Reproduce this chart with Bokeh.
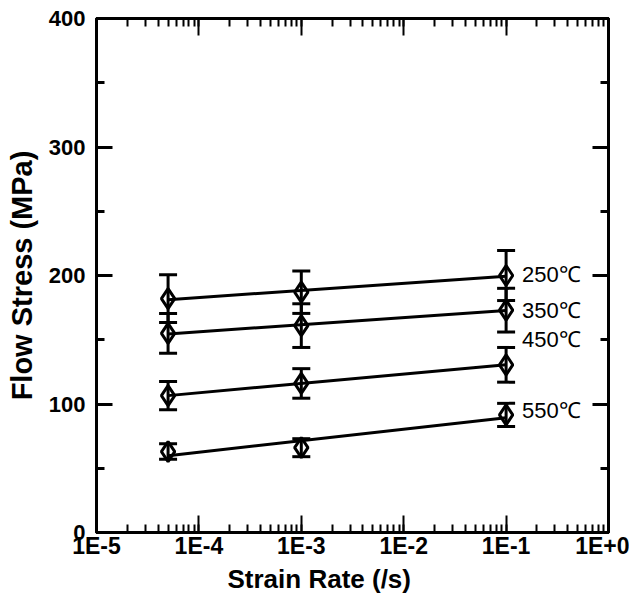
import numpy as np
from bokeh.plotting import figure
from bokeh.models import (Range1d, LogAxis, LinearAxis, LogTicker, CustomJSTickFormatter,
                          SingleIntervalTicker, Whisker, TeeHead, ColumnDataSource, Title)
from bokeh.embed import file_html
from bokeh.resources import INLINE
from bokeh.core.properties import value

# ---- data ----
strain_rate = [5e-5, 1e-3, 1e-1]
temp_labels = ["250℃", "350℃", "450℃", "550℃"]
stress_250 = [182, 187, 200]
err_250 = [18.5, 16.5, 19.5]
stress_350 = [155, 161, 173]
err_350 = [15.5, 17, 17]
stress_450 = [106.5, 116, 130.5]
err_450 = [11, 11.5, 13.5]
stress_550 = [63, 66, 91.5]
err_550 = [6, 7, 9]
label_y = [201, 173, 150, 95]
x_tick_exps = [-5, -4, -3, -2, -1, 0]
x_tick_labels = ["1E-5", "1E-4", "1E-3", "1E-2", "1E-1", "1E+0"]
x_title = "Strain Rate (/s)"
y_title = "Flow Stress (MPa)"

FONT = "Liberation Sans"

p = figure(x_axis_type="log", x_range=Range1d(10.0 ** x_tick_exps[0], 10.0 ** x_tick_exps[-1]),
           y_range=Range1d(0, 400),
           width=629, height=600, output_backend="svg", toolbar_location=None,
           min_border_left=96, min_border_top=18, min_border_right=21, min_border_bottom=68,
           background_fill_color="white", border_fill_color="white")
p.grid.visible = False
p.outline_line_color = "black"
p.outline_line_width = 3

# bottom log axis
ax = p.xaxis[0]
ax.ticker = LogTicker(num_minor_ticks=10)
ax.formatter = CustomJSTickFormatter(args=dict(labels=x_tick_labels, exps=x_tick_exps), code="""
    const e = Math.round(Math.log10(tick));
    const i = exps.indexOf(e);
    return i >= 0 ? labels[i] : "";
""")
ax.major_tick_in = 17
ax.major_tick_out = 0
ax.minor_tick_in = 8
ax.minor_tick_out = 0
ax.axis_line_width = 3
ax.major_tick_line_width = 2
ax.minor_tick_line_width = 2
ax.major_label_standoff = 0
ax.major_label_text_font = FONT
ax.major_label_text_font_style = "bold"
ax.major_label_text_font_size = "23px"
ax.major_label_text_color = "black"

# x title, placed from the left end of the frame (it sits left of centre in the reference)
p.add_layout(Title(text=x_title, align="left", offset=131,
                   text_font=FONT, text_font_style="bold", text_font_size="26px",
                   standoff=0, text_color="black", text_line_height=0.75), "below")

# top log axis: ticks only
top = LogAxis(ticker=LogTicker(num_minor_ticks=10), major_tick_in=17, major_tick_out=0,
              minor_tick_in=8, minor_tick_out=0, major_label_text_font_size="1px",
              major_label_text_alpha=0, major_label_standoff=0, axis_line_width=3,
              major_tick_line_width=2, minor_tick_line_width=2)
p.add_layout(top, "above")

# left y axis
yl = p.yaxis[0]
yl.ticker = SingleIntervalTicker(interval=100, num_minor_ticks=2)
yl.major_tick_in = 16
yl.major_tick_out = 0
yl.minor_tick_in = 8
yl.minor_tick_out = 0
yl.major_tick_line_width = 3
yl.minor_tick_line_width = 3
yl.axis_line_width = 3
yl.major_label_standoff = 11
yl.major_label_text_font = FONT
yl.major_label_text_font_style = "bold"
yl.major_label_text_font_size = "22px"
yl.major_label_text_color = "black"
yl.axis_label = y_title
yl.axis_label_text_font = FONT
yl.axis_label_text_font_style = "bold"
yl.axis_label_text_font_size = "29px"
yl.axis_label_standoff = 8
yl.axis_label_text_color = "black"

# right y axis: ticks only
right = LinearAxis(ticker=SingleIntervalTicker(interval=100, num_minor_ticks=2),
                   major_tick_in=16, major_tick_out=0, minor_tick_in=8, minor_tick_out=0,
                   major_tick_line_width=3, minor_tick_line_width=3, axis_line_width=3,
                   major_label_text_font_size="1px", major_label_text_alpha=0,
                   major_label_standoff=0)
p.add_layout(right, "right")

series = [(stress_250, err_250), (stress_350, err_350), (stress_450, err_450), (stress_550, err_550)]
logx = np.log10(strain_rate)
for ys, errs in series:
    src = ColumnDataSource(dict(x=strain_rate, y=ys,
                                lower=[y - e for y, e in zip(ys, errs)],
                                upper=[y + e for y, e in zip(ys, errs)]))
    p.add_layout(Whisker(source=src, base="x", lower="lower", upper="upper", dimension="height",
                         line_width=3, line_color="black",
                         upper_head=TeeHead(size=18, line_width=3, line_color="black"),
                         lower_head=TeeHead(size=18, line_width=3, line_color="black")))
    # least-squares line of stress vs log strain rate
    k, b = np.polyfit(logx, ys, 1)
    xe = [strain_rate[0], strain_rate[-1]]
    p.line(xe, [k * np.log10(x) + b for x in xe], line_width=3, line_color="black")
    p.scatter(x="x", y="y", source=src, marker="diamond", size=20, fill_color=None,
              line_color="black", line_width=3)

p.text(x=[strain_rate[-1]] * len(temp_labels), y=label_y, text=temp_labels,
       x_offset=16, text_baseline="middle", text_align="left",
       text_font=value(FONT), text_font_size="22px", text_color="black")

open("out.html", "w").write(file_html(p, INLINE))
